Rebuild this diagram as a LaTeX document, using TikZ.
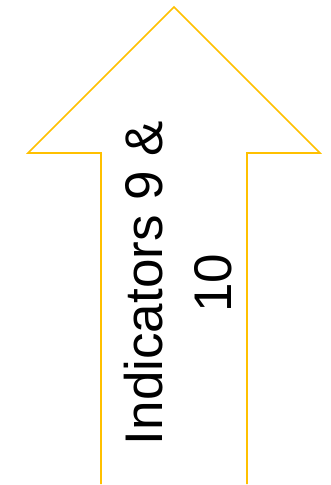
\documentclass[tikz,border=0pt]{standalone}
\usepackage{fontspec}
\setmainfont{Liberation Sans}
\usepackage{tikz}
\definecolor{ArrowGold}{HTML}{FFC000}

\begin{document}
\begin{tikzpicture}[x=1pt,y=-1pt, every node/.style={font=\fontsize{53}{69}\selectfont}]
  \useasboundingbox (0,0) rectangle (330,485);
  \draw[ArrowGold, line width=1.6pt, line join=miter]
    (101,484) -- (101,153) -- (28,153) -- (174,7) -- (320,153) -- (247,153) -- (247,484);
  \node[rotate=90, align=center, inner sep=0pt] (indicators) at (178,283) {Indicators 9 \&\\10};
\end{tikzpicture}
\end{document}
